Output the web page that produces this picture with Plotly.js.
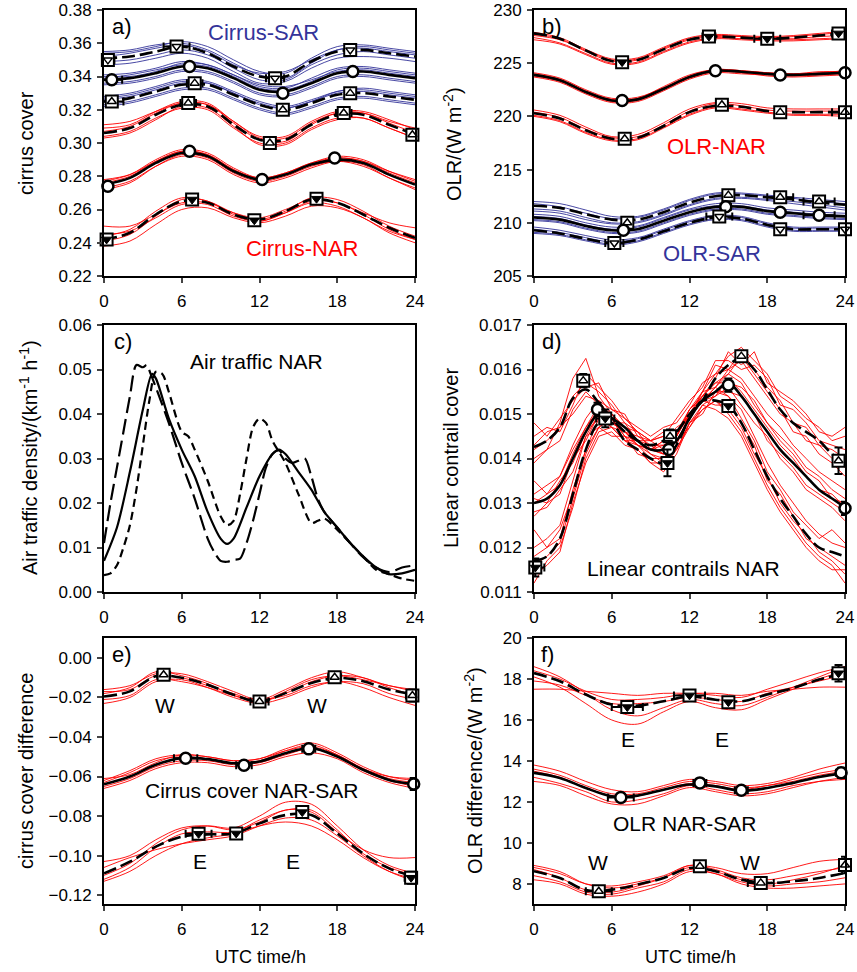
<!DOCTYPE html>
<html><head><meta charset="utf-8">
<script src="https://cdn.plot.ly/plotly-3.0.1.min.js"></script>
<style>html,body{margin:0;padding:0;background:#fff}#chart{width:857px;height:972px}</style>
</head><body><div id="chart"></div>
<script>
// ---------- shared x grids ----------
const hours2 = [0,2,4,6,8,10,12,14,16,18,20,22,24];
const hours1 = [0,1,2,3,4,5,6,7,8,9,10,11,12,13,14,15,16,17,18,19,20,21,22,23,24];

// ---------- panel a: cirrus cover ----------
const aSarTop = [0.351,0.352,0.355,0.358,0.354,0.346,0.340,0.340,0.349,0.355,0.356,0.354,0.352];
const aSarTopM = [
 [0.354,0.355,0.358,0.361,0.358,0.350,0.343,0.342,0.351,0.358,0.359,0.357,0.355],
 [0.349,0.350,0.353,0.356,0.353,0.345,0.338,0.338,0.347,0.353,0.355,0.353,0.351],
 [0.352,0.354,0.357,0.359,0.355,0.347,0.342,0.343,0.350,0.356,0.358,0.356,0.354],
 [0.347,0.348,0.351,0.354,0.351,0.343,0.336,0.337,0.345,0.351,0.352,0.351,0.349],
 [0.355,0.356,0.359,0.360,0.356,0.348,0.341,0.339,0.348,0.356,0.357,0.355,0.353]];
const aSarMid = [0.338,0.339,0.342,0.346,0.345,0.339,0.332,0.331,0.336,0.342,0.343,0.341,0.339];
const aSarMidM = [
 [0.341,0.342,0.345,0.349,0.347,0.341,0.334,0.333,0.339,0.345,0.346,0.344,0.342],
 [0.336,0.337,0.340,0.344,0.343,0.337,0.330,0.329,0.334,0.340,0.341,0.339,0.337],
 [0.339,0.341,0.344,0.347,0.346,0.340,0.333,0.332,0.337,0.344,0.345,0.343,0.341],
 [0.335,0.336,0.339,0.343,0.342,0.336,0.329,0.328,0.333,0.339,0.340,0.338,0.336],
 [0.340,0.340,0.343,0.348,0.347,0.341,0.335,0.334,0.338,0.343,0.344,0.342,0.340]];
const aSarLow = [0.325,0.327,0.331,0.335,0.335,0.329,0.323,0.320,0.324,0.329,0.330,0.328,0.326];
const aSarLowM = [
 [0.328,0.330,0.334,0.338,0.337,0.331,0.325,0.322,0.326,0.331,0.333,0.331,0.329],
 [0.323,0.325,0.329,0.333,0.333,0.327,0.321,0.318,0.322,0.327,0.328,0.326,0.324],
 [0.326,0.328,0.332,0.336,0.336,0.330,0.324,0.321,0.325,0.330,0.331,0.329,0.327],
 [0.322,0.324,0.328,0.332,0.332,0.326,0.320,0.317,0.321,0.326,0.327,0.325,0.323],
 [0.327,0.329,0.333,0.337,0.336,0.330,0.323,0.321,0.325,0.331,0.332,0.330,0.328]];
const aNarTop = [0.306,0.309,0.317,0.323,0.322,0.311,0.302,0.302,0.311,0.317,0.317,0.311,0.305];
const aNarTopM = [
 [0.309,0.311,0.319,0.325,0.324,0.313,0.304,0.304,0.313,0.319,0.319,0.314,0.308],
 [0.304,0.307,0.315,0.321,0.320,0.309,0.300,0.300,0.309,0.315,0.315,0.309,0.303],
 [0.311,0.313,0.319,0.324,0.323,0.313,0.303,0.303,0.312,0.318,0.318,0.313,0.309],
 [0.303,0.306,0.314,0.322,0.321,0.310,0.299,0.299,0.308,0.314,0.315,0.309,0.303],
 [0.307,0.310,0.318,0.324,0.323,0.312,0.302,0.301,0.311,0.318,0.318,0.312,0.306]];
const aNarMid = [0.275,0.279,0.288,0.294,0.292,0.283,0.278,0.281,0.287,0.290,0.288,0.281,0.275];
const aNarMidM = [
 [0.277,0.281,0.290,0.296,0.294,0.285,0.279,0.282,0.288,0.292,0.290,0.283,0.277],
 [0.273,0.277,0.286,0.292,0.290,0.281,0.276,0.279,0.285,0.289,0.287,0.279,0.273],
 [0.276,0.280,0.289,0.295,0.293,0.284,0.278,0.281,0.287,0.291,0.289,0.282,0.276],
 [0.272,0.276,0.286,0.293,0.291,0.282,0.277,0.280,0.286,0.289,0.286,0.279,0.272],
 [0.278,0.281,0.289,0.295,0.293,0.284,0.279,0.282,0.288,0.291,0.289,0.283,0.278]];
const aNarLow = [0.242,0.246,0.257,0.265,0.264,0.257,0.254,0.259,0.266,0.264,0.257,0.249,0.243];
const aNarLowM = [
 [0.250,0.250,0.257,0.264,0.264,0.258,0.255,0.260,0.266,0.264,0.258,0.252,0.249],
 [0.238,0.241,0.251,0.260,0.261,0.255,0.252,0.256,0.262,0.261,0.255,0.246,0.240],
 [0.244,0.248,0.259,0.267,0.265,0.258,0.254,0.259,0.267,0.266,0.259,0.250,0.244],
 [0.241,0.245,0.256,0.266,0.265,0.257,0.253,0.258,0.265,0.264,0.257,0.248,0.242],
 [0.245,0.247,0.255,0.263,0.263,0.256,0.253,0.258,0.264,0.262,0.255,0.247,0.242]];
const aSarTopPts = {x:[0.3,5.6,13.2,19.0], y:[0.350,0.358,0.339,0.356], ex:[0.5,1.0,0.7,0.3], ey:[0.0015,0.001,0.0015,0.001]};
const aSarMidPts = {x:[0.6,6.6,13.8,19.2], y:[0.338,0.346,0.330,0.343], ex:[0.8,0.3,0.3,0.2], ey:[0.001,0.001,0.001,0.001]};
const aSarLowPts = {x:[0.6,7.0,13.8,19.0], y:[0.325,0.336,0.320,0.330], ex:[0.9,0.6,0.3,0.2], ey:[0.001,0.001,0.001,0.001]};
const aNarTopPts = {x:[6.5,12.8,18.5,23.8], y:[0.324,0.300,0.318,0.305], ex:[0.6,0.4,0.6,0.2], ey:[0.001,0.0015,0.001,0.003]};
const aNarMidPts = {x:[0.3,6.6,12.2,17.8], y:[0.274,0.295,0.278,0.291], ex:[0.3,0.2,0.2,0.3], ey:[0.001,0.001,0.001,0.001]};
const aNarLowPts = {x:[0.2,6.8,11.6,16.4], y:[0.242,0.266,0.2535,0.2665], ex:[0.3,0.4,0.4,0.4], ey:[0.001,0.001,0.001,0.001]};

// ---------- panel b: OLR ----------
const bNarTop = [227.8,227.3,226.2,225.2,225.3,226.3,227.2,227.5,227.4,227.3,227.4,227.6,227.8];
const bNarTopM = [
 [227.9,227.4,226.3,225.4,225.5,226.5,227.4,227.7,227.6,227.5,227.6,227.8,228.0],
 [227.4,226.9,225.9,225.0,225.1,226.1,227.0,227.4,227.3,227.2,227.2,227.3,227.4],
 [227.6,227.2,226.2,225.3,225.4,226.4,227.3,227.6,227.5,227.4,227.5,227.7,227.9],
 [227.2,226.8,225.8,224.9,225.0,226.0,226.9,227.3,227.2,227.1,227.1,227.2,227.3],
 [227.7,227.3,226.1,225.2,225.3,226.3,227.2,227.5,227.5,227.3,227.3,227.5,227.6]];
const bNarMid = [223.9,223.4,222.3,221.5,221.6,222.6,223.7,224.3,224.2,224.0,223.9,224.0,224.1];
const bNarMidM = [
 [224.0,223.5,222.4,221.6,221.7,222.8,223.9,224.4,224.3,224.1,224.0,224.1,224.3],
 [223.8,223.3,222.2,221.4,221.5,222.5,223.6,224.2,224.1,223.8,223.7,223.8,223.9],
 [224.1,223.6,222.5,221.7,221.8,222.7,223.8,224.4,224.3,224.1,224.0,224.2,224.2],
 [223.7,223.2,222.1,221.3,221.4,222.4,223.5,224.1,224.0,223.9,223.8,223.9,224.0]];
const bNarLow = [220.3,219.8,218.7,217.9,218.0,219.1,220.4,221.0,220.9,220.5,220.4,220.4,220.4];
const bNarLowM = [
 [220.6,220.1,219.0,218.1,218.3,219.4,220.7,221.3,221.2,220.8,220.7,220.7,220.7],
 [220.0,219.5,218.4,217.7,217.8,218.9,220.1,220.8,220.6,220.3,220.1,220.1,220.0],
 [220.4,219.9,218.8,218.0,218.1,219.2,220.5,221.2,221.0,220.6,220.5,220.5,220.5],
 [220.1,219.6,218.5,217.8,217.9,219.0,220.2,220.9,220.7,220.4,220.2,220.2,220.2]];
const bSarTop = [211.6,211.4,210.8,210.3,210.3,211.0,211.9,212.5,212.6,212.4,212.2,211.9,211.7];
const bSarTopM = [
 [212.0,211.8,211.2,210.6,210.6,211.3,212.2,212.8,212.8,212.6,212.4,212.2,212.0],
 [211.3,211.1,210.5,210.0,210.1,210.8,211.7,212.3,212.4,212.2,212.0,211.7,211.4],
 [211.8,211.5,210.9,210.4,210.5,211.2,212.1,212.7,212.7,212.5,212.3,212.0,211.8],
 [211.1,210.9,210.3,209.9,210.0,210.7,211.6,212.2,212.3,212.1,211.8,211.5,211.2]];
const bSarMid = [210.5,210.3,209.7,209.3,209.4,210.2,211.0,211.5,211.5,211.1,210.9,210.7,210.6];
const bSarMidM = [
 [210.8,210.6,210.0,209.6,209.7,210.5,211.3,211.8,211.8,211.4,211.2,211.0,210.9],
 [210.2,210.0,209.4,209.0,209.1,209.9,210.7,211.2,211.2,210.8,210.6,210.4,210.3],
 [210.6,210.4,209.8,209.4,209.6,210.4,211.2,211.6,211.6,211.2,211.0,210.8,210.7],
 [210.3,210.1,209.5,209.1,209.2,210.0,210.8,211.3,211.3,210.9,210.7,210.5,210.4]];
const bSarLow = [209.3,209.0,208.5,208.1,208.4,209.2,210.0,210.5,210.4,209.8,209.4,209.4,209.4];
const bSarLowM = [
 [209.6,209.3,208.8,208.4,208.6,209.4,210.2,210.7,210.6,210.0,209.6,209.6,209.6],
 [209.0,208.8,208.3,207.9,208.2,209.0,209.8,210.3,210.2,209.6,209.2,209.2,209.2],
 [209.4,209.1,208.6,208.2,208.5,209.3,210.1,210.6,210.5,209.9,209.5,209.5,209.5],
 [209.1,208.9,208.4,208.0,208.3,209.1,209.9,210.4,210.3,209.7,209.3,209.3,209.3]];
const bNarTopPts = {x:[6.8,13.5,18.0,23.5], y:[225.1,227.5,227.3,227.8], ex:[0.3,0.5,1.0,0.5], ey:[0.2,0.2,0.2,0.2]};
const bNarMidPts = {x:[6.8,14.0,19.0,24.0], y:[221.5,224.3,223.9,224.1], ex:[0.3,0.3,0.3,0.3], ey:[0.2,0.2,0.2,0.3]};
const bNarLowPts = {x:[7.0,14.5,19.0,24.0], y:[217.9,221.1,220.4,220.4], ex:[0.3,0.3,0.3,1.0], ey:[0.2,0.2,0.2,0.2]};
const bSarTopPts = {x:[7.2,15.0,19.0,22.0], y:[210.0,212.6,212.4,212.0], ex:[0.3,0.3,1.0,1.2], ey:[0.2,0.2,0.2,0.2]};
const bSarMidPts = {x:[6.9,14.8,19.0,22.0], y:[209.3,211.5,211.0,210.7], ex:[0.3,0.4,0.3,1.2], ey:[0.2,0.2,0.2,0.2]};
const bSarLowPts = {x:[6.2,14.3,19.0,24.0], y:[208.1,210.6,209.4,209.4], ex:[0.7,1.0,0.3,0.2], ey:[0.2,0.2,0.2,0.2]};

// ---------- panel c: air traffic ----------
const cSolidX = [0,1,2,3,3.7,4,5,6,7,8,9,9.5,10,11,12,13,13.5,14,15,16,17,18,19,20,21,22,23,24];
const cSolidY = [0.007,0.0145,0.027,0.041,0.049,0.048,0.039,0.032,0.026,0.018,0.012,0.0108,0.012,0.019,0.026,0.031,0.032,0.031,0.027,0.023,0.018,0.0145,0.011,0.008,0.0055,0.004,0.0042,0.005];
const cLongX = [0,0.5,1,1.5,2,2.5,3,3.3,3.6,4,5,6,7,8,8.5,9,9.5,10,10.5,11,11.5,12,12.5,13,13.5,14,14.5,15,15.5,16,16.5,17,18,19,20,21,22,23,24];
const cLongY = [0.011,0.020,0.028,0.036,0.044,0.051,0.0505,0.051,0.049,0.046,0.038,0.029,0.021,0.012,0.009,0.007,0.0068,0.0072,0.0075,0.011,0.016,0.022,0.028,0.031,0.0318,0.030,0.029,0.0295,0.030,0.026,0.021,0.018,0.0145,0.011,0.0078,0.0055,0.0045,0.0055,0.006];
const cShortX = [0,0.5,1,1.5,2,2.5,3,3.5,4,4.5,5,6,6.5,7,8,9,9.5,10,10.5,11,11.5,12,12.5,13,14,15,16,16.5,17,18,19,20,21,22,23,24];
const cShortY = [0.0038,0.0042,0.006,0.010,0.015,0.023,0.033,0.043,0.0495,0.049,0.045,0.036,0.035,0.032,0.025,0.017,0.015,0.016,0.022,0.030,0.037,0.039,0.038,0.034,0.029,0.022,0.0155,0.016,0.0165,0.014,0.011,0.008,0.005,0.004,0.003,0.0025];

// ---------- panel d: linear contrail cover ----------
const dTop = [0.01426,0.01440,0.01470,0.01535,0.01555,0.01525,0.01490,0.01460,0.01440,0.01430,0.01440,0.01460,0.01500,0.01530,0.01580,0.01610,0.01625,0.01600,0.01555,0.01510,0.01480,0.01460,0.01440,0.01410,0.01390];
const dTopM = [
 [0.01450,0.01470,0.01460,0.01520,0.01590,0.01560,0.01530,0.01490,0.01470,0.01450,0.01470,0.01480,0.01520,0.01570,0.01590,0.01630,0.01650,0.01620,0.01590,0.01540,0.01520,0.01490,0.01470,0.01440,0.01450],
 [0.01400,0.01420,0.01480,0.01580,0.01625,0.01540,0.01500,0.01470,0.01440,0.01430,0.01410,0.01460,0.01500,0.01550,0.01610,0.01600,0.01640,0.01600,0.01560,0.01530,0.01480,0.01470,0.01430,0.01420,0.01400],
 [0.01480,0.01450,0.01490,0.01530,0.01560,0.01570,0.01510,0.01500,0.01450,0.01440,0.01460,0.01450,0.01510,0.01540,0.01580,0.01640,0.01610,0.01640,0.01570,0.01550,0.01530,0.01500,0.01460,0.01450,0.01470],
 [0.01390,0.01420,0.01440,0.01510,0.01550,0.01520,0.01480,0.01460,0.01430,0.01420,0.01440,0.01470,0.01490,0.01530,0.01560,0.01600,0.01620,0.01580,0.01540,0.01500,0.01480,0.01440,0.01430,0.01400,0.01380],
 [0.01430,0.01460,0.01470,0.01540,0.01570,0.01550,0.01520,0.01480,0.01460,0.01440,0.01450,0.01490,0.01530,0.01560,0.01620,0.01620,0.01600,0.01610,0.01580,0.01520,0.01510,0.01480,0.01440,0.01430,0.01420],
 [0.01420,0.01440,0.01470,0.01500,0.01540,0.01530,0.01490,0.01450,0.01440,0.01420,0.01430,0.01450,0.01500,0.01540,0.01570,0.01590,0.01630,0.01590,0.01550,0.01510,0.01460,0.01450,0.01410,0.01390,0.01360]];
const dMid = [0.01300,0.01310,0.01340,0.01400,0.01460,0.01500,0.01490,0.01470,0.01440,0.01420,0.01420,0.01440,0.01490,0.01530,0.01550,0.01570,0.01540,0.01500,0.01460,0.01420,0.01390,0.01360,0.01330,0.01310,0.01290];
const dMidM = [
 [0.01320,0.01340,0.01360,0.01430,0.01490,0.01530,0.01510,0.01490,0.01460,0.01440,0.01450,0.01460,0.01510,0.01550,0.01590,0.01600,0.01580,0.01540,0.01500,0.01470,0.01430,0.01400,0.01370,0.01350,0.01330],
 [0.01280,0.01290,0.01330,0.01370,0.01450,0.01470,0.01490,0.01440,0.01440,0.01410,0.01400,0.01440,0.01470,0.01520,0.01540,0.01560,0.01520,0.01480,0.01450,0.01400,0.01370,0.01330,0.01310,0.01290,0.01260],
 [0.01350,0.01320,0.01360,0.01420,0.01470,0.01520,0.01500,0.01470,0.01460,0.01420,0.01440,0.01460,0.01490,0.01550,0.01560,0.01590,0.01570,0.01520,0.01480,0.01450,0.01420,0.01380,0.01360,0.01330,0.01310],
 [0.01270,0.01300,0.01320,0.01400,0.01440,0.01500,0.01470,0.01460,0.01430,0.01420,0.01410,0.01420,0.01480,0.01500,0.01550,0.01550,0.01540,0.01500,0.01440,0.01410,0.01380,0.01340,0.01320,0.01300,0.01280],
 [0.01310,0.01300,0.01350,0.01390,0.01460,0.01490,0.01480,0.01480,0.01440,0.01440,0.01420,0.01450,0.01500,0.01530,0.01540,0.01580,0.01550,0.01510,0.01470,0.01430,0.01400,0.01360,0.01330,0.01320,0.01290],
 [0.01300,0.01320,0.01340,0.01410,0.01470,0.01510,0.01500,0.01460,0.01450,0.01430,0.01430,0.01440,0.01490,0.01540,0.01570,0.01570,0.01560,0.01530,0.01480,0.01440,0.01410,0.01370,0.01350,0.01310,0.01300]];
const dLow = [0.01170,0.01180,0.01220,0.01320,0.01420,0.01480,0.01480,0.01440,0.01420,0.01400,0.01390,0.01430,0.01490,0.01530,0.01530,0.01520,0.01480,0.01420,0.01360,0.01310,0.01270,0.01230,0.01200,0.01190,0.01180];
const dLowM = [
 [0.01200,0.01220,0.01250,0.01350,0.01450,0.01500,0.01480,0.01460,0.01440,0.01420,0.01410,0.01450,0.01510,0.01540,0.01550,0.01540,0.01510,0.01450,0.01390,0.01340,0.01300,0.01260,0.01230,0.01210,0.01200],
 [0.01140,0.01160,0.01190,0.01300,0.01390,0.01450,0.01460,0.01430,0.01420,0.01390,0.01370,0.01410,0.01480,0.01520,0.01510,0.01490,0.01450,0.01390,0.01330,0.01280,0.01240,0.01200,0.01170,0.01150,0.01150],
 [0.01240,0.01200,0.01240,0.01320,0.01420,0.01470,0.01490,0.01450,0.01430,0.01400,0.01400,0.01440,0.01490,0.01530,0.01560,0.01540,0.01490,0.01440,0.01370,0.01330,0.01280,0.01250,0.01220,0.01240,0.01210],
 [0.01160,0.01180,0.01210,0.01310,0.01410,0.01470,0.01450,0.01450,0.01410,0.01400,0.01380,0.01420,0.01480,0.01510,0.01530,0.01510,0.01470,0.01410,0.01360,0.01300,0.01260,0.01230,0.01190,0.01170,0.01140],
 [0.01180,0.01200,0.01220,0.01330,0.01420,0.01490,0.01470,0.01440,0.01430,0.01410,0.01390,0.01430,0.01500,0.01530,0.01520,0.01520,0.01480,0.01430,0.01350,0.01320,0.01270,0.01220,0.01200,0.01180,0.01160],
 [0.01120,0.01170,0.01200,0.01290,0.01400,0.01460,0.01470,0.01440,0.01420,0.01390,0.01390,0.01420,0.01470,0.01510,0.01530,0.01500,0.01460,0.01400,0.01340,0.01290,0.01250,0.01210,0.01180,0.01160,0.01120]];
const dTopPts = {x:[3.8,10.5,16.0,23.5], y:[0.01575,0.01450,0.01630,0.01395], ex:[0.3,0.4,0.3,0.4], ey:[0.00015,0.00015,0.0001,0.0003]};
const dMidPts = {x:[4.9,10.4,15.0,24.0], y:[0.01510,0.01420,0.01565,0.01288], ex:[0.3,0.3,0.3,0.3], ey:[0.00015,0.0002,0.00015,0.00015]};
const dLowPts = {x:[0.1,5.5,10.3,15.0], y:[0.01155,0.01490,0.01390,0.01518], ex:[0.7,0.7,0.3,0.4], ey:[0.0002,0.0002,0.0003,0.0001]};

// ---------- panel e: cirrus cover difference ----------
const eW = [-0.0195,-0.0169,-0.0093,-0.0100,-0.0135,-0.0186,-0.0220,-0.0178,-0.0127,-0.0101,-0.0118,-0.0160,-0.0186];
const eWM = [
 [-0.016,-0.014,-0.008,-0.008,-0.012,-0.017,-0.021,-0.016,-0.010,-0.007,-0.010,-0.014,-0.016],
 [-0.023,-0.020,-0.012,-0.011,-0.015,-0.020,-0.023,-0.020,-0.015,-0.012,-0.015,-0.020,-0.024],
 [-0.018,-0.015,-0.007,-0.009,-0.013,-0.019,-0.022,-0.017,-0.011,-0.009,-0.011,-0.014,-0.017],
 [-0.021,-0.019,-0.011,-0.012,-0.015,-0.019,-0.021,-0.019,-0.014,-0.012,-0.013,-0.018,-0.021],
 [-0.017,-0.016,-0.009,-0.010,-0.014,-0.018,-0.022,-0.018,-0.012,-0.009,-0.010,-0.015,-0.019]];
const eAll = [-0.0639,-0.0600,-0.0540,-0.0507,-0.0512,-0.0533,-0.0524,-0.0482,-0.0456,-0.0499,-0.0566,-0.0617,-0.0639];
const eAllM = [
 [-0.062,-0.057,-0.051,-0.049,-0.050,-0.052,-0.051,-0.046,-0.043,-0.048,-0.055,-0.060,-0.062],
 [-0.066,-0.062,-0.056,-0.053,-0.053,-0.055,-0.054,-0.050,-0.048,-0.051,-0.058,-0.063,-0.066],
 [-0.063,-0.058,-0.052,-0.050,-0.051,-0.053,-0.052,-0.047,-0.044,-0.049,-0.056,-0.060,-0.061],
 [-0.065,-0.061,-0.055,-0.052,-0.052,-0.054,-0.053,-0.049,-0.046,-0.050,-0.057,-0.062,-0.065],
 [-0.061,-0.059,-0.053,-0.049,-0.050,-0.052,-0.051,-0.047,-0.045,-0.049,-0.056,-0.061,-0.063]];
const eE = [-0.1090,-0.1031,-0.0955,-0.0904,-0.0893,-0.0888,-0.0837,-0.0795,-0.0795,-0.0888,-0.0990,-0.1065,-0.1107];
const eEM = [
 [-0.103,-0.100,-0.092,-0.086,-0.085,-0.087,-0.083,-0.077,-0.078,-0.088,-0.097,-0.101,-0.101],
 [-0.113,-0.108,-0.100,-0.094,-0.091,-0.089,-0.085,-0.083,-0.085,-0.092,-0.101,-0.108,-0.112],
 [-0.110,-0.104,-0.094,-0.087,-0.085,-0.086,-0.080,-0.073,-0.074,-0.085,-0.097,-0.105,-0.109],
 [-0.106,-0.101,-0.097,-0.094,-0.092,-0.090,-0.085,-0.081,-0.082,-0.090,-0.100,-0.108,-0.113],
 [-0.112,-0.106,-0.096,-0.089,-0.088,-0.088,-0.082,-0.077,-0.077,-0.087,-0.099,-0.106,-0.110]];
const eWPts = {x:[4.6,12.0,17.8,23.8], y:[-0.0085,-0.022,-0.0098,-0.0190], ex:[0.5,0.7,0.5,0.5], ey:[0.0015,0.0015,0.0015,0.003]};
const eAllPts = {x:[6.3,10.8,15.8,23.9], y:[-0.0508,-0.0543,-0.0460,-0.0638], ex:[0.9,0.6,0.5,0.2], ey:[0.001,0.001,0.0015,0.003]};
const eEPts = {x:[7.3,10.2,15.3,23.7], y:[-0.089,-0.0888,-0.078,-0.1112], ex:[1.0,0.4,0.3,0.5], ey:[0.002,0.0015,0.003,0.003]};

// ---------- panel f: OLR difference ----------
const fE = [18.29,17.89,17.24,16.75,16.70,16.91,17.15,16.99,16.91,17.24,17.56,17.97,18.29];
const fEM = [
 [18.6,18.1,17.3,16.5,16.2,16.6,17.0,16.8,16.7,17.1,17.6,18.1,18.6],
 [17.5,17.5,17.4,17.3,17.2,17.3,17.3,17.3,17.2,17.4,17.5,17.6,17.6],
 [18.1,17.6,16.8,16.0,15.8,16.4,16.9,16.6,16.5,17.0,17.5,18.0,18.4],
 [18.4,18.0,17.4,17.0,17.0,17.1,17.3,17.2,17.1,17.5,17.9,18.3,18.6],
 [17.9,17.7,17.2,16.8,16.8,16.9,17.1,17.0,16.9,17.3,17.6,17.9,18.2]];
const fAll = [13.42,13.17,12.68,12.28,12.31,12.60,12.85,12.76,12.55,12.68,12.93,13.22,13.42];
const fAllM = [
 [13.8,13.5,13.0,12.6,12.5,12.8,13.1,13.0,12.8,12.9,13.2,13.6,13.9],
 [13.0,12.8,12.3,11.9,11.9,12.3,12.7,12.5,12.3,12.4,12.7,13.0,13.2],
 [13.6,13.3,12.8,12.4,12.4,12.7,13.0,12.9,12.7,12.8,13.1,13.4,13.6],
 [13.2,12.9,12.5,12.0,12.1,12.4,12.8,12.6,12.4,12.5,12.8,13.0,13.1],
 [13.5,13.2,12.7,12.3,12.3,12.6,12.9,12.8,12.6,12.8,13.0,13.3,13.5]];
const fW = [8.62,8.29,7.70,7.72,7.97,8.29,8.78,8.62,8.21,8.05,8.13,8.29,8.54];
const fWM = [
 [8.8,8.5,8.0,7.9,8.1,8.4,8.9,8.8,8.5,8.5,8.8,9.1,9.2],
 [8.2,8.0,7.5,7.4,7.6,8.0,8.6,8.5,8.0,7.8,7.8,7.9,8.0],
 [8.7,8.3,7.7,7.6,7.9,8.3,8.9,8.7,8.3,8.2,8.4,8.6,8.8],
 [8.4,8.1,7.6,7.5,7.8,8.1,8.7,8.5,8.1,7.9,8.0,8.1,8.3],
 [8.9,8.6,8.0,7.8,8.0,8.3,8.8,8.6,8.2,8.0,8.2,8.5,8.9]];
const fEPts = {x:[7.2,12.0,15.0,23.5], y:[16.63,17.2,16.87,18.28], ex:[1.2,1.2,0.3,0.5], ey:[0.25,0.2,0.2,0.4]};
const fAllPts = {x:[6.7,12.8,16.0,23.7], y:[12.22,12.93,12.57,13.42], ex:[1.0,0.5,0.5,0.4], ey:[0.2,0.2,0.2,0.25]};
const fWPts = {x:[5.0,12.8,17.5,24.0], y:[7.64,8.86,8.05,8.92], ex:[1.0,0.4,1.0,0.3], ey:[0.15,0.2,0.15,0.4]};

// ---------- axis tick labels / ranges ----------
const xTicks = [0,6,12,18,24];
const aTicks = [0.22,0.24,0.26,0.28,0.30,0.32,0.34,0.36,0.38];
const bTicks = [205,210,215,220,225,230];
const cTicks = [0,0.01,0.02,0.03,0.04,0.05,0.06];
const dTicks = [0.011,0.012,0.013,0.014,0.015,0.016,0.017];
const eTicks = [-0.12,-0.10,-0.08,-0.06,-0.04,-0.02,0];
const fTicks = [8,10,12,14,16,18,20];

// ---------- styling ----------
const FONT = 'Liberation Sans, Arial, Helvetica, sans-serif';
const RED = '#ff0000';
const BLUE = '#34349a';
const DASH = '13px,5px';

function thin(x, ys, color, ax, shape){
  return ys.map(y => ({x, y, xaxis:'x'+ax, yaxis:'y'+ax, mode:'lines', showlegend:false, hoverinfo:'skip',
    line:{color, width:0.9, shape: shape||'spline', smoothing:1}}));
}
function bold(x, y, dash, ax){
  return {x, y, xaxis:'x'+ax, yaxis:'y'+ax, mode:'lines', showlegend:false, hoverinfo:'skip',
    line:{color:'#000', width:2.6, dash, shape:'spline', smoothing:1}};
}
function marks(p, kind, ax){
  const base = {x:p.x, y:p.y, xaxis:'x'+ax, yaxis:'y'+ax, mode:'markers', showlegend:false, hoverinfo:'skip', cliponaxis:false};
  const err = {error_x:{type:'data', array:p.ex, color:'#000', thickness:2, width:4},
               error_y:{type:'data', array:p.ey, color:'#000', thickness:2, width:4}};
  if (kind === 'circ') {
    return [Object.assign({}, base, err, {marker:{symbol:'circle', size:11, color:'#fff', line:{color:'#000', width:2.5}}})];
  }
  const inner = {
    tri:  {symbol:'triangle-up', size:8, color:'#fff', line:{color:'#000', width:1.5}},
    dtri: {symbol:'triangle-down', size:8, color:'#fff', line:{color:'#000', width:1.5}},
    dtrif:{symbol:'triangle-down', size:9, color:'#000', line:{color:'#000', width:1}}
  }[kind];
  return [
    Object.assign({}, base, err, {marker:{symbol:'square', size:12, color:'#fff', line:{color:'#000', width:2}}}),
    Object.assign({}, base, {marker:inner})
  ];
}

let traces = [];
// a
traces = traces.concat(thin(hours2, aSarTopM, BLUE, ''), thin(hours2, aSarMidM, BLUE, ''), thin(hours2, aSarLowM, BLUE, ''),
  thin(hours2, aNarTopM, RED, ''), thin(hours2, aNarMidM, RED, ''), thin(hours2, aNarLowM, RED, ''));
traces.push(bold(hours2, aSarTop, DASH, ''), bold(hours2, aSarMid, 'solid', ''), bold(hours2, aSarLow, DASH, ''),
  bold(hours2, aNarTop, DASH, ''), bold(hours2, aNarMid, 'solid', ''), bold(hours2, aNarLow, DASH, ''));
traces = traces.concat(marks(aSarTopPts,'dtri',''), marks(aSarMidPts,'circ',''), marks(aSarLowPts,'tri',''),
  marks(aNarTopPts,'tri',''), marks(aNarMidPts,'circ',''), marks(aNarLowPts,'dtrif',''));
// b
traces = traces.concat(thin(hours2, bNarTopM, RED, '2'), thin(hours2, bNarMidM, RED, '2'), thin(hours2, bNarLowM, RED, '2'),
  thin(hours2, bSarTopM, BLUE, '2'), thin(hours2, bSarMidM, BLUE, '2'), thin(hours2, bSarLowM, BLUE, '2'));
traces.push(bold(hours2, bNarTop, DASH, '2'), bold(hours2, bNarMid, 'solid', '2'), bold(hours2, bNarLow, DASH, '2'),
  bold(hours2, bSarTop, DASH, '2'), bold(hours2, bSarMid, 'solid', '2'), bold(hours2, bSarLow, DASH, '2'));
traces = traces.concat(marks(bNarTopPts,'dtrif','2'), marks(bNarMidPts,'circ','2'), marks(bNarLowPts,'tri','2'),
  marks(bSarTopPts,'tri','2'), marks(bSarMidPts,'circ','2'), marks(bSarLowPts,'dtri','2'));
// c
traces.push(
  {x:cSolidX, y:cSolidY, xaxis:'x3', yaxis:'y3', mode:'lines', showlegend:false, hoverinfo:'skip', line:{color:'#000', width:2.2, shape:'spline', smoothing:0.8}},
  {x:cLongX, y:cLongY, xaxis:'x3', yaxis:'y3', mode:'lines', showlegend:false, hoverinfo:'skip', line:{color:'#000', width:2.2, dash:'16px,6px', shape:'spline', smoothing:0.8}},
  {x:cShortX, y:cShortY, xaxis:'x3', yaxis:'y3', mode:'lines', showlegend:false, hoverinfo:'skip', line:{color:'#000', width:2.2, dash:'8px,5px', shape:'spline', smoothing:0.8}});
// d
traces = traces.concat(thin(hours1, dTopM, RED, '4', 'linear'), thin(hours1, dMidM, RED, '4', 'linear'), thin(hours1, dLowM, RED, '4', 'linear'));
traces.push(bold(hours1, dTop, DASH, '4'), bold(hours1, dMid, 'solid', '4'), bold(hours1, dLow, DASH, '4'));
traces = traces.concat(marks(dTopPts,'tri','4'), marks(dMidPts,'circ','4'), marks(dLowPts,'dtrif','4'));
// e
traces = traces.concat(thin(hours2, eWM, RED, '5'), thin(hours2, eAllM, RED, '5'), thin(hours2, eEM, RED, '5'));
traces.push(bold(hours2, eW, DASH, '5'), bold(hours2, eAll, 'solid', '5'), bold(hours2, eE, DASH, '5'));
traces = traces.concat(marks(eWPts,'tri','5'), marks(eAllPts,'circ','5'), marks(eEPts,'dtrif','5'));
// f
traces = traces.concat(thin(hours2, fEM, RED, '6'), thin(hours2, fAllM, RED, '6'), thin(hours2, fWM, RED, '6'));
traces.push(bold(hours2, fE, DASH, '6'), bold(hours2, fAll, 'solid', '6'), bold(hours2, fW, DASH, '6'));
traces = traces.concat(marks(fEPts,'dtrif','6'), marks(fAllPts,'circ','6'), marks(fWPts,'tri','6'));

// ---------- layout ----------
const W = 857, H = 972;
const xL = [104/W, 415/W], xR = [534/W, 845/W];
const yT = [1-276/H, 1-10/H], yM = [1-592/H, 1-325/H], yB = [1-904/H, 1-638/H];
const tickFont = {family:FONT, size:17, color:'#000'};

const panels = [
  {id:'',  xd:xL, yd:yT, yr:[0.22,0.38], yt:aTicks, fmt:'.2f'},
  {id:'2', xd:xR, yd:yT, yr:[205,230], yt:bTicks, fmt:'d'},
  {id:'3', xd:xL, yd:yM, yr:[0,0.06], yt:cTicks, fmt:'.2f'},
  {id:'4', xd:xR, yd:yM, yr:[0.011,0.017], yt:dTicks, fmt:'.3f'},
  {id:'5', xd:xL, yd:yB, yr:[-0.1245,0.0101], yt:eTicks, fmt:'.2f'},
  {id:'6', xd:xR, yd:yB, yr:[7.02,20], yt:fTicks, fmt:'d'}
];

const layout = {width:W, height:H, margin:{l:0, r:0, t:0, b:0}, paper_bgcolor:'#fff', plot_bgcolor:'#fff', showlegend:false, annotations:[]};
const common = {showgrid:false, zeroline:false, automargin:false, fixedrange:true};
panels.forEach((p, i) => {
  const k = p.id;
  const ov = String(i + 7);
  layout['xaxis'+k] = Object.assign({}, common, {domain:p.xd, anchor:'y'+k, range:[0,24], tickvals:xTicks,
    ticks:'outside', ticklen:5, tickwidth:2, showline:true, linewidth:2, linecolor:'#000', mirror:true,
    tickfont:tickFont, ticklabelstandoff:4});
  layout['yaxis'+k] = Object.assign({}, common, {domain:p.yd, anchor:'x'+k, range:p.yr, tickvals:p.yt, tickformat:p.fmt,
    ticks:'outside', ticklen:5, tickwidth:2, showline:true, linewidth:2, linecolor:'#000', mirror:true,
    tickfont:tickFont, ticklabelstandoff:2});
  // inside ticks on the top and right frame
  layout['xaxis'+ov] = Object.assign({}, common, {overlaying:'x'+k, side:'top', anchor:'y'+k, range:[0,24], tickvals:xTicks,
    ticks:'inside', ticklen:6, tickwidth:2, tickcolor:'#000', showticklabels:false, showline:false});
  layout['yaxis'+ov] = Object.assign({}, common, {overlaying:'y'+k, side:'right', anchor:'x'+k, range:p.yr, tickvals:p.yt,
    ticks:'inside', ticklen:6, tickwidth:2, tickcolor:'#000', showticklabels:false, showline:false});
});

function ann(text, ax, x, y, color, size){
  return {text, xref:'x'+ax, yref:'y'+ax, x, y, showarrow:false, font:{family:FONT, size, color}};
}
function px(text, x, y, opts){
  return Object.assign({text, xref:'paper', yref:'paper', x:x/W, y:1-y/H, showarrow:false,
    font:{family:FONT, size:20, color:'#000'}}, opts||{});
}
const PANEL = {xanchor:'left', yanchor:'top', font:{family:FONT, size:22, color:'#000'}};
const YT = {textangle:-90, xanchor:'center', yanchor:'middle'};
const XT = {xanchor:'center', yanchor:'middle', font:{family:FONT, size:18, color:'#000'}};
layout.annotations.push(
  px('a)', 110, 12, PANEL), px('b)', 540, 12, PANEL), px('c)', 112, 327, PANEL),
  px('d)', 540, 327, PANEL), px('e)', 110, 640, PANEL), px('f)', 539, 640, PANEL),
  px('cirrus cover', 26, 143, YT),
  px('OLR/(W m<sup>-2</sup>)', 452, 144, YT),
  px('Air traffic density/(km<sup>-1</sup> h<sup>-1</sup>)', 28, 458, YT),
  px('Linear contrail cover', 451, 458, YT),
  px('cirrus cover difference', 26, 771, YT),
  px('OLR difference/(W m<sup>-2</sup>)', 473, 771, YT),
  px('UTC time/h', 260, 957, XT),
  px('UTC time/h', 690, 957, XT),
  ann('Cirrus-SAR', '', 12.3, 0.3662, BLUE, 22),
  ann('Cirrus-NAR', '', 15.3, 0.2368, RED, 22),
  ann('OLR-NAR', '2', 14.1, 217.2, RED, 22),
  ann('OLR-SAR', '2', 13.7, 207.07, BLUE, 22),
  ann('Air traffic NAR', '3', 11.8, 0.0517, '#000', 21),
  ann('Linear contrails NAR', '4', 11.5, 0.01152, '#000', 21),
  ann('W', '5', 4.7, -0.0239, '#000', 21), ann('W', '5', 16.4, -0.0239, '#000', 21),
  ann('Cirrus cover NAR-SAR', '5', 11.4, -0.067, '#000', 21),
  ann('E', '5', 7.4, -0.103, '#000', 21), ann('E', '5', 14.6, -0.103, '#000', 21),
  ann('E', '6', 7.25, 15.03, '#000', 21), ann('E', '6', 14.5, 15.03, '#000', 21),
  ann('OLR NAR-SAR', '6', 11.65, 10.94, '#000', 21),
  ann('W', '6', 4.94, 9.04, '#000', 21), ann('W', '6', 16.67, 9.04, '#000', 21)
);

Plotly.newPlot('chart', traces, layout, {staticPlot:true, displayModeBar:false});
</script></body></html>
